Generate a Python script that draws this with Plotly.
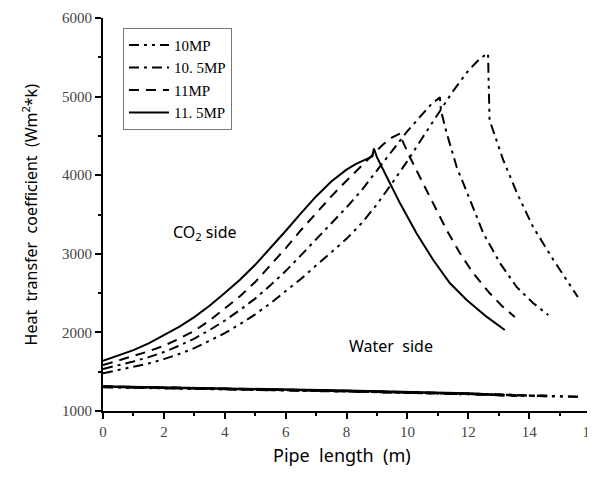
import plotly.graph_objects as go

# ---- data ----
labels = ["10MP", "10. 5MP", "11MP", "11. 5MP"]

# CO2 side heat-transfer coefficient
x_10 = [0, 0.5, 1, 1.5, 2, 2.5, 3, 3.5, 4, 4.5, 5, 5.5, 6, 6.5, 7, 7.5, 8, 8.5, 9, 9.5, 10, 10.5, 11, 11.5, 12, 12.4, 12.65, 12.7, 13.15, 13.6, 14.13, 14.8, 15.6]
y_10 = [1480, 1520, 1560, 1605, 1660, 1725, 1800, 1890, 1990, 2105, 2230, 2370, 2520, 2680, 2850, 3015, 3190, 3390, 3630, 3900, 4180, 4480, 4780, 5070, 5330, 5490, 5550, 4700, 4193, 3774, 3341, 2921, 2450]

x_105 = [0, 0.5, 1, 1.5, 2, 2.5, 3, 3.5, 4, 4.5, 5, 5.5, 6, 6.5, 7, 7.5, 8, 8.5, 9, 9.5, 10, 10.5, 10.8, 11.07, 11.1, 11.29, 11.62, 12.06, 12.49, 13.04, 13.59, 14.13, 14.63]
y_105 = [1535, 1580, 1630, 1685, 1750, 1830, 1920, 2030, 2150, 2285, 2430, 2600, 2780, 2980, 3180, 3385, 3590, 3810, 4060, 4320, 4560, 4780, 4910, 4990, 4830, 4537, 4104, 3684, 3264, 2883, 2578, 2374, 2221]

x_11 = [0, 0.5, 1, 1.5, 2, 2.5, 3, 3.5, 4, 4.5, 5, 5.5, 6, 6.5, 7, 7.5, 8, 8.5, 8.9, 9.2, 9.5, 9.76, 9.8, 10.08, 10.41, 10.85, 11.29, 11.73, 12.16, 12.7, 13.1, 13.53]
y_11 = [1585, 1640, 1700, 1760, 1830, 1920, 2020, 2150, 2300, 2460, 2640, 2850, 3070, 3300, 3520, 3730, 3930, 4120, 4280, 4390, 4480, 4530, 4470, 4232, 3977, 3643, 3303, 3006, 2755, 2501, 2340, 2196]

x_115 = [0, 0.5, 1, 1.5, 2, 2.5, 3, 3.5, 4, 4.5, 5, 5.5, 6, 6.5, 7, 7.5, 8, 8.3, 8.6, 8.85, 8.9, 9.0, 9.32, 9.76, 10.3, 10.85, 11.4, 11.95, 12.6, 13.2]
y_115 = [1640, 1705, 1775, 1860, 1960, 2070, 2195, 2340, 2500, 2670, 2860, 3070, 3290, 3515, 3730, 3920, 4070, 4140, 4200, 4240, 4340, 4230, 3981, 3642, 3261, 2921, 2625, 2412, 2200, 2031]

# Water side heat-transfer coefficient
xw_10 = [0, 4, 8, 12, 14, 15.7]
yw_10 = [1305, 1280, 1250, 1215, 1195, 1180]
xw_105 = [0, 4, 8, 12, 14.6]
yw_105 = [1308, 1282, 1252, 1218, 1190]
xw_11 = [0, 4, 8, 12, 13.6]
yw_11 = [1310, 1285, 1255, 1220, 1195]
xw_115 = [0, 4, 8, 12, 13.2]
yw_115 = [1312, 1288, 1258, 1222, 1200]

dashes = ["10px,5px,3px,5px,3px,5px", "10px,5px,3px,5px", "10px,7px", "solid"]

fig = go.Figure()
co2 = [(x_10, y_10), (x_105, y_105), (x_11, y_11), (x_115, y_115)]
water = [(xw_10, yw_10), (xw_105, yw_105), (xw_11, yw_11), (xw_115, yw_115)]
for (xs, ys), lab, d in zip(co2, labels, dashes):
    fig.add_trace(go.Scatter(x=xs, y=ys, mode="lines", name=lab,
                             line=dict(color="black", width=2, dash=d)))
for (xs, ys), d in zip(water, dashes):
    fig.add_trace(go.Scatter(x=xs, y=ys, mode="lines", showlegend=False,
                             line=dict(color="black", width=2.5, dash=d)))

fig.add_annotation(x=3.35, y=3277, text="CO<sub>2</sub> side", showarrow=False,
                   font=dict(family="Noto Sans", size=16, color="black"))
fig.add_annotation(x=9.45, y=1830, text="Water  side", showarrow=False,
                   font=dict(family="Noto Sans", size=16, color="black"))
# axis titles
fig.add_annotation(xref="paper", yref="paper", x=-0.15, y=0.5, textangle=-90,
                   xanchor="center", yanchor="middle",
                   text="Heat  transfer  coefficient  (Wm<sup>2</sup>*k)", showarrow=False,
                   font=dict(family="Noto Sans", size=16, color="black"))
fig.add_annotation(xref="paper", yref="paper", x=0.49, y=-0.112,
                   xanchor="center", yanchor="middle",
                   text="Pipe  length  (m)", showarrow=False,
                   font=dict(family="Noto Sans", size=18, color="black"))

fig.update_layout(
    width=595, height=488,
    margin=dict(l=95, r=13, t=10, b=85),
    plot_bgcolor="white", paper_bgcolor="white",
    showlegend=True,
    legend=dict(x=0.041, y=0.975, xanchor="left", yanchor="top",
                bgcolor="white", bordercolor="#777", borderwidth=1,
                font=dict(family="Liberation Serif", size=15, color="black"),
                tracegroupgap=0, itemwidth=40),
    xaxis=dict(range=[0, 16], dtick=2, showgrid=False, zeroline=False, automargin=False,
               showline=True, linecolor="black", linewidth=2, ticklabeloverflow="allow",
               ticks="outside", ticklen=6, tickwidth=2, tickcolor="black",
               minor=dict(ticks="outside", dtick=1, ticklen=3, tickwidth=2, tickcolor="black"),
               tickfont=dict(family="Liberation Serif", size=15, color="#444")),
    yaxis=dict(range=[1000, 6000], dtick=1000, showgrid=False, zeroline=False, automargin=False,
               showline=True, linecolor="black", linewidth=2,
               ticks="outside", ticklen=6, tickwidth=2, tickcolor="black",
               minor=dict(ticks="outside", dtick=500, ticklen=3, tickwidth=2, tickcolor="black"),
               tickfont=dict(family="Liberation Serif", size=15, color="#444")),
)

fig.write_html("out.html")
